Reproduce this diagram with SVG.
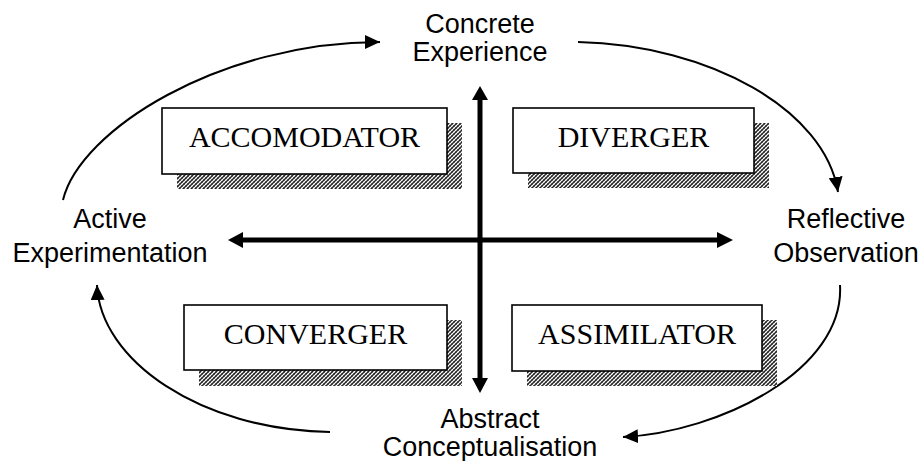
<svg xmlns="http://www.w3.org/2000/svg" width="919" height="461" viewBox="0 0 919 461">
<defs>
<pattern id="hatch" width="4" height="4" patternUnits="userSpaceOnUse">
<rect width="4" height="4" fill="#ffffff"/>
<path d="M0,4 L4,0 M-1,1 L1,-1 M3,5 L5,3" stroke="#222" stroke-width="1.4"/>
<path d="M0,0 L4,4" stroke="#555" stroke-width="0.8"/>
</pattern>
<marker id="ah" markerWidth="16" markerHeight="14" refX="15" refY="7" orient="auto" markerUnits="userSpaceOnUse">
<path d="M0,0 L15,7 L0,14 Z" fill="#000"/>
</marker>
</defs>
<style>
.shadow{fill:url(#hatch);}
.box{fill:#fff;stroke:#000;stroke-width:1.6;}
.bt{font-family:"Liberation Serif","Times New Roman",serif;font-size:30px;fill:#000;text-anchor:middle;}
.lbl{font-family:"Liberation Sans",Arial,sans-serif;font-size:27px;fill:#000;text-anchor:middle;}
.axis{stroke:#000;stroke-width:5;fill:none;}
.cyc{stroke:#000;stroke-width:2;fill:none;marker-end:url(#ah);}
</style>
<g id="connectors">
<line class="axis" x1="480" y1="98" x2="480" y2="380"/>
<path d="M472,100 L480,86 L488,100 Z" fill="#000"/>
<path d="M472,378 L480,393 L488,378 Z" fill="#000"/>
<line class="axis" x1="240" y1="240" x2="720" y2="240"/>
<path d="M243,232 L228,240 L243,248 Z" fill="#000"/>
<path d="M717,232 L733,240 L717,248 Z" fill="#000"/>
<path class="cyc" d="M63,200 C80,130 220,42 380,42"/>
<path class="cyc" d="M578,42 C710,45 825,110 838,192"/>
<path class="cyc" d="M840,285 C845,370 720,432 623,437"/>
<path class="cyc" d="M330,432 C200,430 100,360 97,285"/>
</g>
<g id="accomodator">
<rect class="shadow" x="177" y="123" width="285" height="66"/>
<rect class="box" x="162" y="108" width="285" height="66"/>
<text class="bt" x="304.5" y="147">ACCOMODATOR</text>
</g>
<g id="diverger">
<rect class="shadow" x="528" y="123" width="241" height="65"/>
<rect class="box" x="513" y="108" width="241" height="65"/>
<text class="bt" x="633.5" y="147">DIVERGER</text>
</g>
<g id="converger">
<rect class="shadow" x="199" y="320" width="263" height="66"/>
<rect class="box" x="184" y="305" width="263" height="65"/>
<text class="bt" x="315.5" y="344">CONVERGER</text>
</g>
<g id="assimilator">
<rect class="shadow" x="527" y="320" width="250" height="66"/>
<rect class="box" x="512" y="305" width="250" height="66"/>
<text class="bt" x="637" y="344">ASSIMILATOR</text>
</g>
<g id="concrete-experience">
<text class="lbl" x="480" y="33">Concrete</text>
<text class="lbl" x="480" y="61">Experience</text>
</g>
<g id="reflective-observation">
<text class="lbl" x="846" y="228">Reflective</text>
<text class="lbl" x="846" y="262">Observation</text>
</g>
<g id="abstract-conceptualisation">
<text class="lbl" x="490" y="428">Abstract</text>
<text class="lbl" x="490" y="456">Conceptualisation</text>
</g>
<g id="active-experimentation">
<text class="lbl" x="110" y="228">Active</text>
<text class="lbl" x="110" y="262">Experimentation</text>
</g>
</svg>
